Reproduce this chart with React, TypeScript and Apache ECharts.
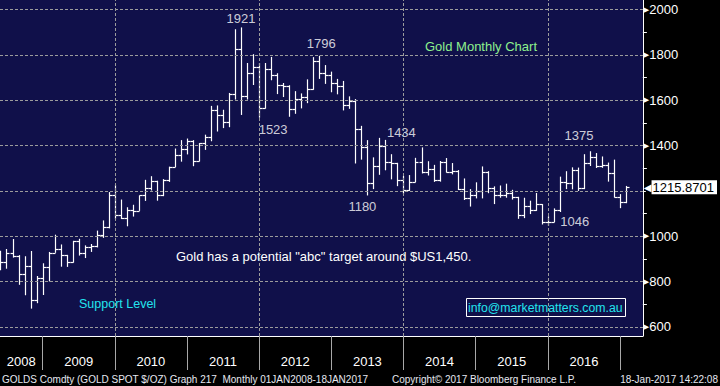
import React, { useEffect, useRef } from "react";
import * as echarts from "echarts";

// ---- Data (monthly OHLC, GOLD SPOT $/OZ, visible months) ----
const months = [
  "2008-05", "2008-06", "2008-07", "2008-08", "2008-09", "2008-10", "2008-11", "2008-12",
  "2009-01", "2009-02", "2009-03", "2009-04", "2009-05", "2009-06", "2009-07", "2009-08", "2009-09", "2009-10", "2009-11", "2009-12",
  "2010-01", "2010-02", "2010-03", "2010-04", "2010-05", "2010-06", "2010-07", "2010-08", "2010-09", "2010-10", "2010-11", "2010-12",
  "2011-01", "2011-02", "2011-03", "2011-04", "2011-05", "2011-06", "2011-07", "2011-08", "2011-09", "2011-10", "2011-11", "2011-12",
  "2012-01", "2012-02", "2012-03", "2012-04", "2012-05", "2012-06", "2012-07", "2012-08", "2012-09", "2012-10", "2012-11", "2012-12",
  "2013-01", "2013-02", "2013-03", "2013-04", "2013-05", "2013-06", "2013-07", "2013-08", "2013-09", "2013-10", "2013-11", "2013-12",
  "2014-01", "2014-02", "2014-03", "2014-04", "2014-05", "2014-06", "2014-07", "2014-08", "2014-09", "2014-10", "2014-11", "2014-12",
  "2015-01", "2015-02", "2015-03", "2015-04", "2015-05", "2015-06", "2015-07", "2015-08", "2015-09", "2015-10", "2015-11", "2015-12",
  "2016-01", "2016-02", "2016-03", "2016-04", "2016-05", "2016-06", "2016-07", "2016-08", "2016-09", "2016-10", "2016-11", "2016-12",
  "2017-01",
];

const opens = [
  865, 886, 928, 913, 832, 871, 718, 814,
  866, 928, 942, 916, 888, 979, 926, 954, 955, 1007, 1040, 1182,
  1096, 1082, 1118, 1113, 1180, 1215, 1244, 1181, 1248, 1307, 1357, 1386,
  1421, 1333, 1410, 1439, 1556, 1536, 1502, 1628, 1825, 1620, 1722, 1746,
  1564, 1738, 1710, 1669, 1664, 1561, 1604, 1614, 1648, 1773, 1719, 1713,
  1676, 1662, 1579, 1597, 1472, 1393, 1234, 1312, 1396, 1327, 1323, 1250,
  1202, 1240, 1326, 1284, 1296, 1250, 1327, 1282, 1287, 1208, 1171, 1182,
  1199, 1283, 1213, 1183, 1184, 1190, 1172, 1095, 1134, 1115, 1142, 1065,
  1061, 1118, 1238, 1233, 1292, 1214, 1321, 1351, 1309, 1316, 1277, 1173,
  1152,
];

const highs = [
  936, 944, 988, 917, 912, 935, 825, 881,
  931, 1007, 964, 918, 980, 989, 960, 966, 1025, 1070, 1195, 1227,
  1162, 1128, 1139, 1180, 1249, 1265, 1245, 1252, 1307, 1387, 1424, 1431,
  1424, 1411, 1448, 1575, 1577, 1558, 1632, 1913, 1921, 1764, 1803, 1764,
  1764, 1791, 1719, 1676, 1666, 1640, 1630, 1692, 1790, 1796, 1755, 1726,
  1694, 1685, 1617, 1605, 1487, 1424, 1348, 1434, 1425, 1362, 1324, 1267,
  1270, 1346, 1392, 1331, 1315, 1332, 1345, 1323, 1292, 1255, 1208, 1238,
  1308, 1287, 1220, 1224, 1232, 1205, 1174, 1170, 1157, 1191, 1142, 1088,
  1123, 1263, 1287, 1304, 1303, 1362, 1375, 1367, 1352, 1325, 1338, 1186,
  1222,
];

const lows = [
  850, 857, 906, 786, 740, 681, 705, 741,
  801, 927, 866, 865, 884, 915, 904, 931, 951, 993, 1035, 1075,
  1076, 1044, 1087, 1112, 1156, 1202, 1157, 1177, 1240, 1305, 1329, 1361,
  1309, 1330, 1381, 1419, 1462, 1477, 1481, 1603, 1535, 1603, 1667, 1523,
  1563, 1688, 1627, 1614, 1527, 1540, 1564, 1587, 1646, 1694, 1672, 1635,
  1626, 1555, 1562, 1321, 1338, 1180, 1208, 1271, 1291, 1251, 1221, 1187,
  1200, 1238, 1277, 1268, 1240, 1241, 1281, 1273, 1204, 1160, 1131, 1167,
  1167, 1190, 1142, 1170, 1170, 1162, 1077, 1080, 1098, 1112, 1052, 1046,
  1062, 1107, 1208, 1207, 1200, 1208, 1310, 1301, 1302, 1241, 1171, 1124,
  1146,
];

const closes = [
  886, 928, 913, 832, 871, 718, 814, 866,
  928, 942, 916, 888, 979, 926, 954, 955, 1007, 1040, 1182, 1096,
  1082, 1118, 1113, 1180, 1215, 1244, 1181, 1248, 1307, 1357, 1386, 1421,
  1333, 1410, 1439, 1556, 1536, 1502, 1628, 1825, 1620, 1722, 1746, 1564,
  1738, 1710, 1669, 1664, 1561, 1604, 1614, 1648, 1773, 1719, 1713, 1676,
  1662, 1579, 1597, 1472, 1393, 1234, 1312, 1396, 1327, 1323, 1250, 1202,
  1240, 1326, 1284, 1296, 1250, 1327, 1282, 1287, 1208, 1171, 1182, 1199,
  1283, 1213, 1183, 1184, 1190, 1172, 1095, 1134, 1115, 1142, 1065, 1061,
  1118, 1238, 1233, 1292, 1214, 1321, 1351, 1309, 1316, 1277, 1173, 1152,
  1215.8701,
];

const years = ["2008", "2009", "2010", "2011", "2012", "2013", "2014", "2015", "2016"];
const yearBoundaries = [12, 24, 36, 48, 60, 72, 84, 96, 108];
const verticalGridMonths = [24, 48, 72, 96];
const yMajorTicks = [600, 800, 1000, 1200, 1400, 1600, 1800, 2000];
const yMajorLabels = [600, 800, 1000, 1400, 1600, 1800, 2000]; // 1200 is covered by last-price tag
const yMinorTicks = [700, 900, 1100, 1300, 1500, 1700, 1900];
const lastPrice = 1215.8701;

const annotationMonths = ["2011-09", "2012-10", "2011-12", "2013-08", "2013-06", "2016-07", "2015-12"];
const annotationValues = [1921, 1796, 1523, 1434, 1180, 1375, 1046];

const X_MIN = 4.92;
const X_MAX = 111.8;
const Y_MIN = 560.3;
const Y_MAX = 2041.9;

const FONT = "'Liberation Sans', Arial, Helvetica, sans-serif";
const CYAN = "#22e4ee";

function monthPos(m: string): number {
  const [y, mo] = m.split("-").map(Number);
  return (y - 2008) * 12 + mo; // month-end position
}

export default function App() {
  const ref = useRef<HTMLDivElement>(null);

  useEffect(() => {
    document.body.style.margin = "0";
    if (!ref.current) return;
    const chart = echarts.init(ref.current, null, { renderer: "svg" });

    const ohlc = months.map((m, i) => [monthPos(m), opens[i], highs[i], lows[i], closes[i]]);

    const annotationStyles: any[] = [
      { position: "top", distance: 2, offset: [0, 0] },
      { position: "top", distance: 5, offset: [2, 0] },
      { position: "bottom", distance: 5, offset: [14, 0] },
      { position: "right", distance: 7, offset: [0, -5] },
      { position: "bottom", distance: 4, offset: [-5, 0] },
      { position: "top", distance: 9, offset: [-11, 0] },
      { position: "right", distance: 12, offset: [0, -4] },
    ];

    const annotationData = annotationMonths.map((m, i) => ({
      value: [monthPos(m), annotationValues[i]],
      label: {
        show: true,
        formatter: String(annotationValues[i]),
        ...annotationStyles[i],
      },
    }));

    const yearLabelPos = years.map((_, i) => {
      const start = Math.max(i * 12, X_MIN);
      const end = Math.min((i + 1) * 12, X_MAX);
      return (start + end) / 2;
    });

    const option: any = {
      animation: false,
      backgroundColor: "#000000",
      grid: {
        left: 0,
        top: 0,
        right: 71,
        bottom: 50,
        show: true,
        backgroundColor: "#10104a",
        borderWidth: 0,
      },
      xAxis: {
        type: "value",
        min: X_MIN,
        max: X_MAX,
        position: "bottom",
        axisLine: { show: true, onZero: false, lineStyle: { color: "#ffffff", width: 1 } },
        axisTick: {
          show: true,
          customValues: yearBoundaries,
          length: 34,
          lineStyle: { color: "#a8a8a8", width: 1 },
        },
        axisLabel: {
          show: true,
          customValues: yearLabelPos,
          formatter: (v: number) => years[Math.floor(v / 12)] ?? "",
          color: "#ffffff",
          fontSize: 13,
          fontFamily: FONT,
          margin: 19,
        },
        splitLine: { show: false },
      },
      yAxis: [
        {
          type: "value",
          position: "right",
          min: Y_MIN,
          max: Y_MAX,
          axisLine: { show: true, lineStyle: { color: "#ffffff", width: 1 } },
          axisTick: {
            show: true,
            customValues: yMajorTicks,
            length: 3,
            lineStyle: { color: "#ffffff", width: 1 },
          },
          axisLabel: {
            show: true,
            customValues: yMajorLabels,
            margin: 1,
            formatter: (v: number) => `{a|▶}{b|${v}}`,
            rich: {
              a: { color: "#ffffff", fontSize: 7, fontFamily: "DejaVu Sans", verticalAlign: "middle" },
              b: { color: "#ffffff", fontSize: 13, fontFamily: FONT, verticalAlign: "middle" },
            },
          },
          splitLine: { show: false },
        },
        {
          type: "value",
          position: "right",
          min: Y_MIN,
          max: Y_MAX,
          axisLine: { show: false },
          axisTick: {
            show: true,
            customValues: yMinorTicks,
            length: 4,
            lineStyle: { color: "#ffffff", width: 1 },
          },
          axisLabel: { show: false },
          splitLine: { show: false },
        },
        {
          type: "value",
          position: "right",
          min: Y_MIN,
          max: Y_MAX,
          axisLine: { show: false },
          axisTick: { show: false },
          axisLabel: {
            show: true,
            customValues: [lastPrice],
            margin: 1,
            formatter: (v: number) => `{a|◀}{b|${v.toFixed(4)}}`,
            rich: {
              a: { color: "#ffffff", fontSize: 10, fontFamily: "DejaVu Sans", verticalAlign: "middle" },
              b: {
                color: "#000000",
                backgroundColor: "#ffffff",
                fontSize: 13,
                fontFamily: FONT,
                padding: [1, 3, 0, 1],
                verticalAlign: "middle",
              },
            },
          },
          splitLine: { show: false },
        },
      ],
      series: [
        {
          type: "line",
          data: [],
          z: 1,
          silent: true,
          markLine: {
            silent: true,
            symbol: ["none", "none"],
            label: { show: false },
            lineStyle: { color: "#9c9c9c", type: [3, 2], width: 1 },
            data: [
              ...yMajorTicks.map((v) => ({ yAxis: v })),
              ...verticalGridMonths.map((v) => ({ xAxis: v })),
            ],
          },
        },
        {
          type: "custom",
          z: 3,
          clip: true,
          data: ohlc,
          encode: { x: 0, y: [1, 2, 3, 4] },
          renderItem: (params: any, api: any) => {
            const x = api.value(0);
            const pO = api.coord([x, api.value(1)]);
            const pH = api.coord([x, api.value(2)]);
            const pL = api.coord([x, api.value(3)]);
            const pC = api.coord([x, api.value(4)]);
            const cx = Math.round(pH[0]) + 0.5;
            const st = { stroke: "#ffffff", lineWidth: 1.2 };
            const oy = Math.round(pO[1]) + 0.5;
            const cy = Math.round(pC[1]) + 0.5;
            return {
              type: "group",
              children: [
                { type: "line", shape: { x1: cx, y1: pH[1], x2: cx, y2: pL[1] }, style: st },
                { type: "line", shape: { x1: cx - 3, y1: oy, x2: cx, y2: oy }, style: st },
                { type: "line", shape: { x1: cx, y1: cy, x2: cx + 3, y2: cy }, style: st },
              ],
            };
          },
        },
        {
          type: "scatter",
          z: 4,
          symbolSize: 1,
          itemStyle: { color: "rgba(0,0,0,0)" },
          silent: true,
          label: {
            show: true,
            color: "#ffffff",
            fontSize: 13,
            fontFamily: FONT,
          },
          data: annotationData,
        },
      ],
      graphic: [
        {
          type: "text",
          x: 425,
          y: 46,
          style: { text: "Gold Monthly Chart", fill: "#8ef08e", fontSize: 13, fontFamily: FONT, verticalAlign: "middle" },
        },
        {
          type: "text",
          x: 176,
          y: 256,
          style: {
            text: 'Gold has a potential "abc" target around $US1,450.',
            fill: "#ffffff",
            fontSize: 13,
            fontFamily: FONT,
            verticalAlign: "middle",
          },
        },
        {
          type: "text",
          x: 79,
          y: 304,
          style: { text: "Support Level", fill: CYAN, fontSize: 12.5, fontFamily: FONT, verticalAlign: "middle" },
        },
        {
          type: "rect",
          shape: { x: 466.5, y: 298.5, width: 159, height: 18 },
          style: { fill: "none", stroke: "#ffffff", lineWidth: 1 },
        },
        {
          type: "text",
          x: 468,
          y: 308,
          style: {
            text: "info@marketmatters.com.au",
            fill: CYAN,
            fontSize: 12.3,
            fontFamily: FONT,
            verticalAlign: "middle",
          },
        },
        {
          type: "text",
          x: 2,
          y: 379,
          style: {
            text: "GOLDS Comdty (GOLD SPOT $/OZ) Graph 217  Monthly 01JAN2008-18JAN2017",
            fill: "#e6e8f0",
            fontSize: 10,
            fontFamily: FONT,
            verticalAlign: "middle",
          },
        },
        {
          type: "text",
          x: 392,
          y: 379,
          style: {
            text: "Copyright© 2017 Bloomberg Finance L.P.",
            fill: "#e6e8f0",
            fontSize: 10,
            fontFamily: FONT,
            verticalAlign: "middle",
          },
        },
        {
          type: "text",
          x: 718,
          y: 379,
          style: {
            text: "18-Jan-2017 14:22:08",
            fill: "#e6e8f0",
            fontSize: 10,
            fontFamily: FONT,
            align: "right",
            verticalAlign: "middle",
          },
        },
      ],
    };

    chart.setOption(option);
    return () => chart.dispose();
  }, []);

  return <div ref={ref} style={{ width: 720, height: 386 }} />;
}
